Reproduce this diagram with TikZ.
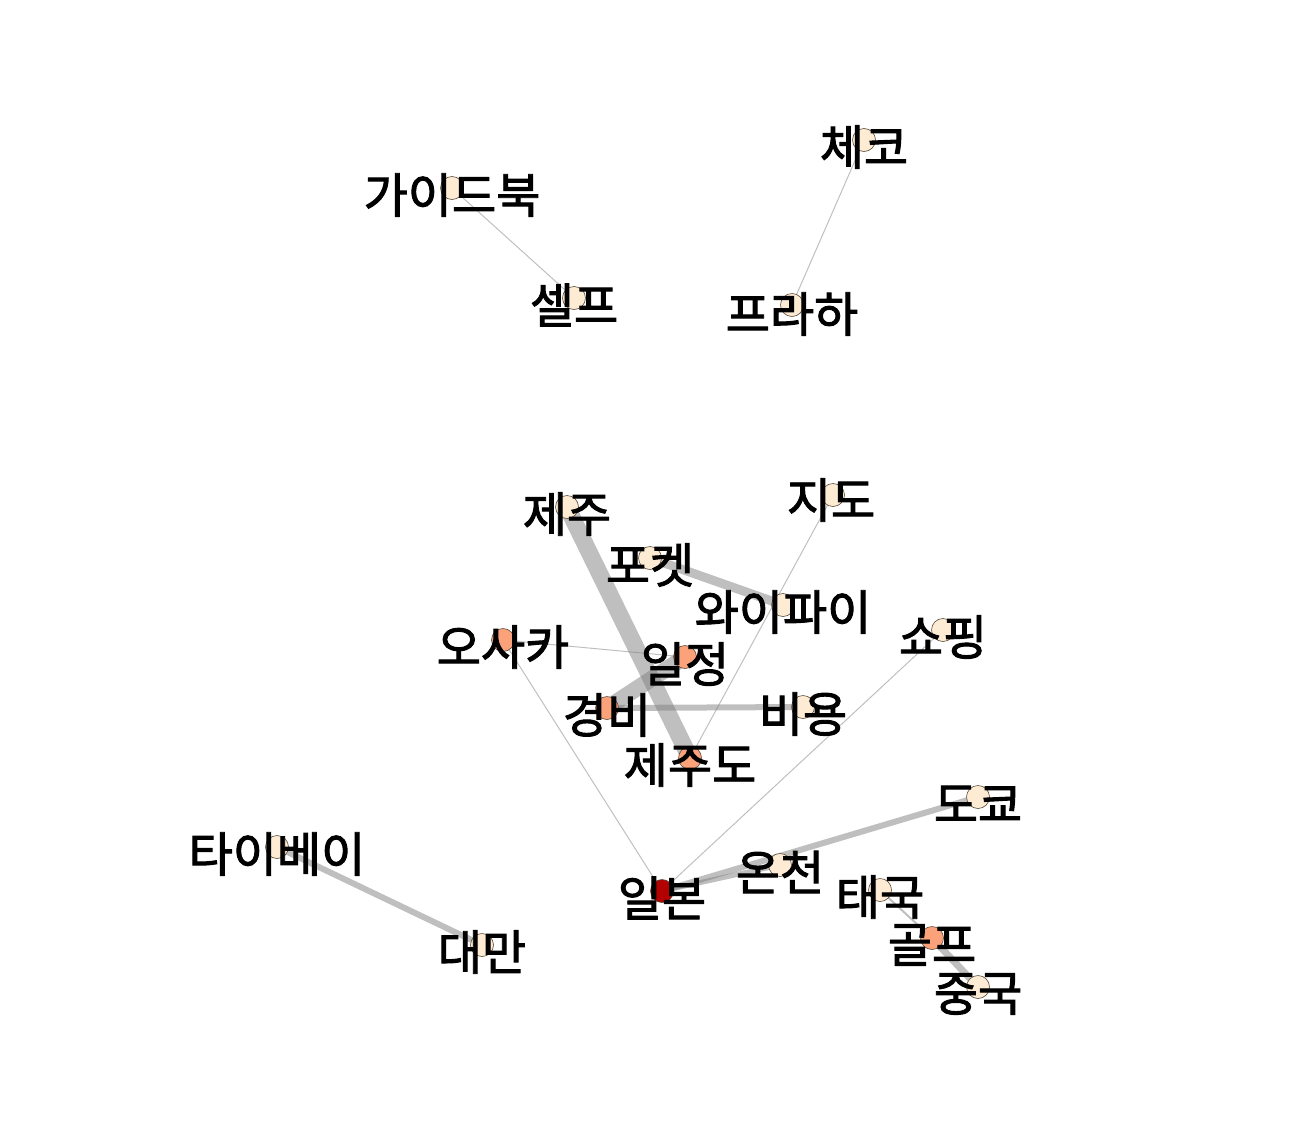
\documentclass[tikz,border=0pt]{standalone}
\usepackage{fontspec}
\newfontfamily\kr[FakeBold=2]{Noto Sans CJK KR}
\pgfdeclarelayer{bg}
\pgfsetlayers{bg,main}
\definecolor{cream}{HTML}{FEEBD4}
\definecolor{orng}{HTML}{FCA27B}
\definecolor{dred}{HTML}{B30000}
\definecolor{rim}{HTML}{5A4A3A}
\tikzset{
  dot/.style={circle, draw=rim, line width=0.6pt, minimum size=23pt, inner sep=0pt},
  lbl/.style={font=\kr\fontsize{48}{48}\selectfont, text=black, inner sep=0pt},
  edge/.style={draw=gray, opacity=0.5, line cap=butt},
}
\begin{document}
\begin{tikzpicture}[x=1pt, y=-1pt]
\useasboundingbox (0,0) rectangle (1309,1127);
% circles
\node[dot, fill=cream] (gb) at (452,188) {};
\node[dot, fill=cream] (self) at (574,298) {};
\node[dot, fill=cream] (czech) at (864,140) {};
\node[dot, fill=cream] (prague) at (792,305) {};
\node[dot, fill=cream] (jeju) at (567,507) {};
\node[dot, fill=cream] (jido) at (833,495) {};
\node[dot, fill=cream] (pocket) at (650,558) {};
\node[dot, fill=cream] (wifi) at (783,605) {};
\node[dot, fill=orng] (osaka) at (503,640) {};
\node[dot, fill=orng] (sched) at (685,657) {};
\node[dot, fill=orng] (cost1) at (607,708) {};
\node[dot, fill=cream] (cost2) at (803,707) {};
\node[dot, fill=orng] (jejudo) at (690,758) {};
\node[dot, fill=cream] (shop) at (943,630) {};
\node[dot, fill=cream] (tokyo) at (978,797) {};
\node[dot, fill=cream] (onsen) at (780,865) {};
\node[dot, fill=dred] (japan) at (662,891) {};
\node[dot, fill=cream] (thai) at (880,890) {};
\node[dot, fill=orng] (golf) at (932,938) {};
\node[dot, fill=cream] (china) at (978,987) {};
\node[dot, fill=cream] (taipei) at (277,847) {};
\node[dot, fill=cream] (taiwan) at (482,945) {};
% edges
\begin{pgfonlayer}{bg}
\draw[edge, line width=1pt] (gb.center) -- (self.center);
\draw[edge, line width=1pt] (czech.center) -- (prague.center);
\draw[edge, line width=17pt] (jeju.center) -- (jejudo.center);
\draw[edge, line width=9pt] (pocket.center) -- (wifi.center);
\draw[edge, line width=1pt] (jido.center) -- (jejudo.center);
\draw[edge, line width=1pt] (osaka.center) -- (sched.center);
\draw[edge, line width=1pt] (osaka.center) -- (japan.center);
\draw[edge, line width=16pt] (sched.center) -- (cost1.center);
\draw[edge, line width=6pt] (cost1.center) -- (cost2.center);
\draw[edge, line width=1pt] (shop.center) -- (japan.center);
\draw[edge, line width=6pt] (japan.center) -- (tokyo.center);
\draw[edge, line width=5pt] (japan.center) -- (onsen.center);
\draw[edge, line width=2pt] (thai.center) -- (golf.center);
\draw[edge, line width=7pt] (golf.center) -- (china.center);
\draw[edge, line width=6pt] (taipei.center) -- (taiwan.center);
\end{pgfonlayer}
% labels
\node[lbl] (gb-l) at ([yshift=-7pt]gb.center) {가이드북};
\node[lbl] (self-l) at ([yshift=-7pt]self.center) {셀프};
\node[lbl] (czech-l) at ([yshift=-7pt]czech.center) {체코};
\node[lbl] (prague-l) at ([yshift=-9pt]prague.center) {프라하};
\node[lbl] (jeju-l) at ([yshift=-7pt]jeju.center) {제주};
\node[lbl] (jido-l) at ([yshift=-5pt,xshift=-2pt]jido.center) {지도};
\node[lbl] (pocket-l) at ([yshift=-7pt]pocket.center) {포켓};
\node[lbl] (wifi-l) at ([yshift=-7pt]wifi.center) {와이파이};
\node[lbl] (osaka-l) at ([yshift=-7pt]osaka.center) {오사카};
\node[lbl] (sched-l) at ([yshift=-7pt]sched.center) {일정};
\node[lbl] (cost1-l) at ([yshift=-7pt]cost1.center) {경비};
\node[lbl] (cost2-l) at ([yshift=-7pt]cost2.center) {비용};
\node[lbl] (jejudo-l) at ([yshift=-7pt]jejudo.center) {제주도};
\node[lbl] (shop-l) at ([yshift=-7pt]shop.center) {쇼핑};
\node[lbl] (tokyo-l) at ([yshift=-7pt]tokyo.center) {도쿄};
\node[lbl] (onsen-l) at ([yshift=-7pt]onsen.center) {온천};
\node[lbl] (japan-l) at ([yshift=-7pt]japan.center) {일본};
\node[lbl] (thai-l) at ([yshift=-7pt]thai.center) {태국};
\node[lbl] (golf-l) at ([yshift=-7pt]golf.center) {골프};
\node[lbl] (china-l) at ([yshift=-7pt]china.center) {중국};
\node[lbl] (taipei-l) at ([yshift=-7pt]taipei.center) {타이베이};
\node[lbl] (taiwan-l) at ([yshift=-7pt]taiwan.center) {대만};
\end{tikzpicture}
\end{document}
